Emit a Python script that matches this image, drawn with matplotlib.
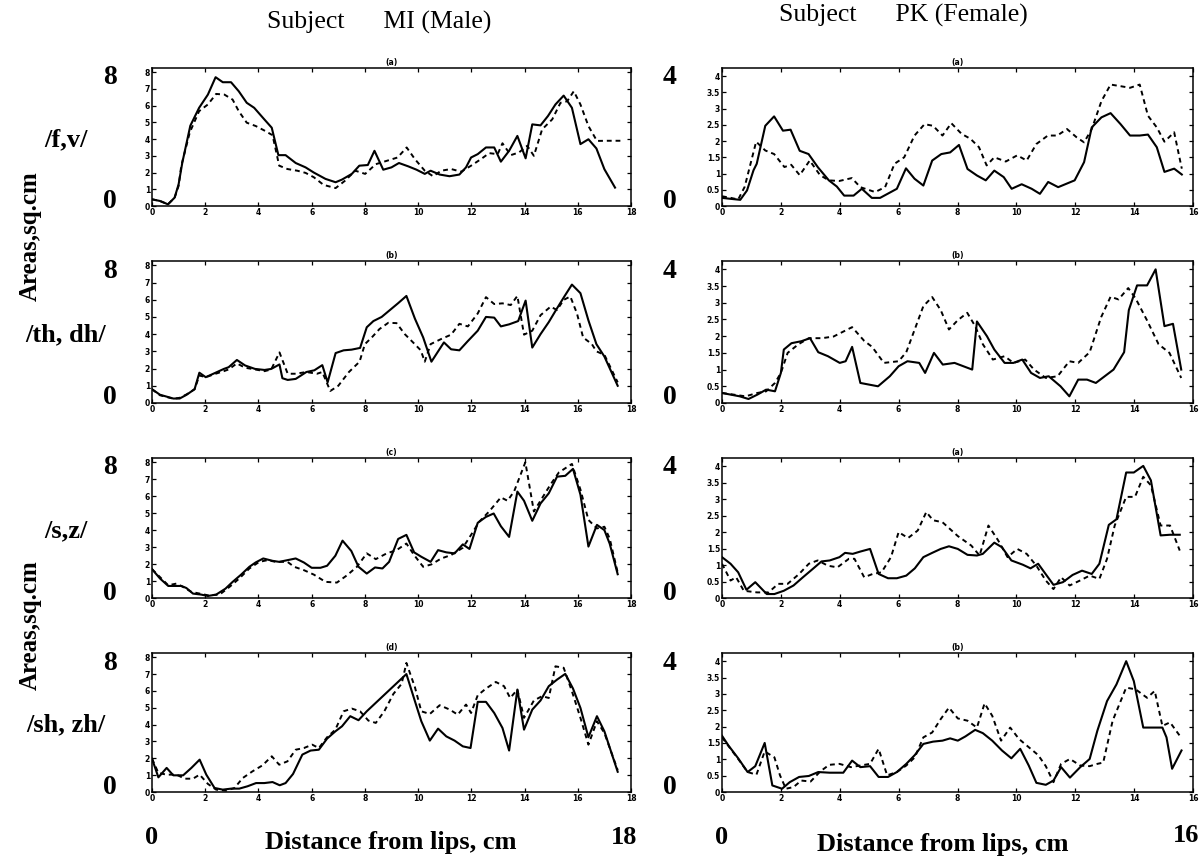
import numpy as np
import matplotlib.pyplot as plt

# ---- data ----
# Subject MI (male), x 0..18 cm, areas 0..8 sq.cm
mi_fv_x_s = [0, 0.3, 0.6, 0.85, 1.0, 1.14, 1.44, 1.77, 2.1, 2.39, 2.66, 2.97, 3.26, 3.56, 3.84, 4.22, 4.5, 4.75,
             5.02, 5.4, 5.77, 6.08, 6.52, 6.9, 7.14, 7.51, 7.79, 8.11, 8.36, 8.69, 9.0, 9.28, 9.63, 9.94, 10.25,
             10.47, 10.81, 11.18, 11.55, 11.8, 11.99, 12.24, 12.55, 12.86, 13.11, 13.42, 13.73, 14.04, 14.29, 14.6,
             14.88, 15.16, 15.47, 15.78, 16.1, 16.4, 16.7, 17.0, 17.4]
mi_fv_s = [0.4, 0.3, 0.1, 0.5, 1.3, 2.6, 4.8, 5.87, 6.66, 7.7, 7.4, 7.4, 6.86, 6.17, 5.87, 5.18, 4.68, 3.04,
           3.04, 2.57, 2.31, 2.0, 1.62, 1.42, 1.58, 1.92, 2.41, 2.45, 3.3, 2.17, 2.31, 2.57, 2.37, 2.17, 1.92,
           2.11, 1.88, 1.78, 1.88, 2.31, 2.9, 3.1, 3.5, 3.5, 2.65, 3.3, 4.19, 2.85, 4.88, 4.82,
           5.38, 6.07, 6.6, 5.87, 3.7, 3.99, 3.44, 2.2, 1.1]
mi_fv_x_d = [0, 0.3, 0.6, 0.85, 1.0, 1.1, 1.42, 1.77, 2.1, 2.41, 2.72, 3.03, 3.26, 3.56, 3.9, 4.25, 4.53, 4.78,
             5.09, 5.46, 5.77, 6.08, 6.45, 6.9, 7.26, 7.64, 8.01, 8.41, 8.82, 9.23, 9.57, 9.88, 10.25, 10.56,
             10.87, 11.24, 11.62, 11.99, 12.36, 12.67, 12.99, 13.17, 13.48, 13.79, 14.1, 14.35, 14.66, 15.04,
             15.35, 15.6, 15.85, 16.1, 16.4, 16.72, 17.1, 17.6]
mi_fv_d = [0.4, 0.3, 0.1, 0.5, 1.2, 2.4, 4.4, 5.67, 6.07, 6.7, 6.66, 6.36, 5.67, 4.98, 4.78, 4.49, 4.23, 2.41,
           2.21, 2.11, 1.98, 1.72, 1.26, 1.07, 1.52, 2.11, 1.92, 2.5, 2.7, 2.9, 3.5, 2.8, 2.11, 1.78,
           2.11, 2.21, 2.05, 2.41, 2.8, 3.16, 3.1, 3.75, 3.04, 3.2, 3.6, 3.0, 4.58, 5.18,
           6.17, 6.26, 6.86, 6.07, 4.78, 3.89, 3.9, 3.9]

mi_th_x_s = [0, 0.3, 0.8, 1.04, 1.3, 1.6, 1.78, 2.02, 2.39, 2.7, 2.88, 3.19, 3.5, 3.87, 4.23, 4.48, 4.79, 4.9,
             5.1, 5.4, 5.8, 6.1, 6.4, 6.6, 6.9, 7.2, 7.5, 7.82, 8.07, 8.32, 8.63, 8.94, 9.25, 9.56, 9.88,
             10.19, 10.5, 10.97, 11.24, 11.55, 11.87, 12.24, 12.55, 12.86, 13.11, 13.42, 13.76, 14.04, 14.29,
             14.6, 14.91, 15.22, 15.5, 15.78, 16.1, 16.4, 16.7, 17.0, 17.5]
mi_th_s = [0.8, 0.48, 0.26, 0.26, 0.48, 0.8, 1.76, 1.5, 1.76, 1.98, 2.08, 2.5, 2.18, 1.98, 1.92, 1.98, 2.24, 1.44,
           1.34, 1.4, 1.8, 1.9, 2.2, 1.2, 2.9, 3.06, 3.1, 3.2, 4.4, 4.76, 5.0, 5.4, 5.8, 6.22, 4.9,
           3.81, 2.4, 3.52, 3.12, 3.06, 3.6, 4.2, 5.0, 4.96, 4.45, 4.57, 4.76, 5.95, 3.22,
           4.0, 4.7, 5.5, 6.2, 6.88, 6.38, 4.8, 3.42, 2.7, 1.0]
mi_th_x_d = [0, 0.3, 0.8, 1.04, 1.3, 1.6, 1.78, 2.02, 2.39, 2.7, 2.88, 3.19, 3.5, 3.87, 4.23, 4.48, 4.79, 5.1,
             5.4, 5.8, 6.2, 6.4, 6.7, 7.0, 7.4, 7.8, 8.0, 8.26, 8.55, 8.88, 9.19, 9.5, 9.81, 10.1, 10.25,
             10.47, 10.87, 11.24, 11.55, 11.87, 12.24, 12.55, 12.86, 13.17, 13.48, 13.73, 13.98, 14.29, 14.6,
             14.98, 15.22, 15.47, 15.72, 15.97, 16.2, 16.53, 16.7, 17.0, 17.5]
mi_th_d = [0.8, 0.45, 0.25, 0.3, 0.5, 0.8, 1.6, 1.5, 1.7, 1.85, 1.95, 2.3, 2.05, 1.95, 1.85, 1.95, 2.94, 1.7,
           1.7, 1.8, 1.7, 1.8, 0.7, 1.0, 1.8, 2.4, 3.42, 3.81, 4.3, 4.66, 4.64, 4.0, 3.52, 3.06, 2.4,
           3.42, 3.72, 3.97, 4.6, 4.45, 5.2, 6.15, 5.75, 5.79, 5.69, 6.22, 3.97, 4.2, 5.1,
           5.6, 5.4, 5.99, 6.19, 5.2, 3.81, 3.42, 3.0, 2.8, 1.2]

mi_sz_x_s = [0, 0.3, 0.61, 1.1, 1.29, 1.54, 1.85, 2.1, 2.41, 2.76, 3.03, 3.35, 3.66, 3.9, 4.18, 4.53, 4.78, 5.09,
             5.4, 5.71, 6.0, 6.33, 6.58, 6.89, 7.16, 7.49, 7.76, 8.07, 8.38, 8.66, 8.91, 9.25, 9.56, 9.85,
             10.12, 10.47, 10.75, 11.06, 11.37, 11.68, 11.93, 12.24, 12.55, 12.84, 13.11, 13.42, 13.73, 13.98,
             14.29, 14.6, 14.91, 15.22, 15.53, 15.82, 16.1, 16.4, 16.72, 17.0, 17.2, 17.5]
mi_sz_s = [1.7, 1.15, 0.71, 0.71, 0.59, 0.26, 0.2, 0.12, 0.2, 0.55, 0.95, 1.38, 1.84, 2.1, 2.33, 2.19, 2.13, 2.23,
           2.33, 2.09, 1.78, 1.78, 1.9, 2.49, 3.38, 2.77, 1.84, 1.44, 1.8, 1.74, 2.13, 3.48, 3.72, 2.69,
           2.43, 2.13, 2.82, 2.69, 2.63, 3.16, 2.89, 4.43, 4.78, 4.98, 4.23, 3.6, 6.27, 5.73,
           4.55, 5.57, 6.17, 7.15, 7.2, 7.61, 6.09, 3.03, 4.31, 4.0, 3.2, 1.4]
mi_sz_x_d = [0, 0.61, 0.92, 1.17, 1.48, 1.79, 2.1, 2.54, 2.91, 3.28, 3.66, 4.03, 4.34, 4.65, 5.09, 5.34, 5.71,
             6.08, 6.52, 6.95, 7.33, 7.7, 8.07, 8.41, 8.82, 9.19, 9.56, 9.85, 10.19, 10.5, 10.87, 11.24,
             11.68, 11.99, 12.3, 12.67, 13.11, 13.36, 13.61, 14.03, 14.35, 14.98, 15.29, 15.78, 16.1, 16.4,
             16.72, 17.0, 17.2, 17.5]
mi_sz_d = [1.7, 0.75, 0.85, 0.65, 0.36, 0.26, 0.16, 0.2, 0.65, 1.15, 1.74, 2.13, 2.23, 2.13, 2.13, 1.84, 1.64,
           1.38, 0.95, 0.91, 1.34, 1.84, 2.63, 2.29, 2.63, 2.82, 3.21, 2.53, 1.84, 1.98, 2.33, 2.53,
           2.96, 3.72, 4.5, 5.1, 5.93, 5.73, 6.29, 8.0, 5.1, 6.7, 7.4, 7.9, 6.39, 4.6,
           4.1, 4.2, 3.5, 1.5]

mi_sh_x_s = [0, 0.24, 0.55, 0.8, 1.17, 1.48, 1.79, 2.04, 2.35, 2.66, 2.97, 3.28, 3.59, 3.91, 4.22, 4.53, 4.8,
             5.02, 5.3, 5.65, 5.96, 6.27, 6.58, 6.89, 7.14, 7.45, 7.76, 8.07, 9.56, 9.88, 10.12, 10.44,
             10.75, 11.06, 11.37, 11.68, 11.97, 12.24, 12.55, 12.86, 13.17, 13.42, 13.73, 13.98, 14.29, 14.6,
             14.91, 15.22, 15.53, 15.82, 16.1, 16.4, 16.72, 17.0, 17.5]
mi_sh_s = [1.98, 0.87, 1.43, 0.99, 0.99, 1.43, 1.92, 1.03, 0.24, 0.14, 0.2, 0.2, 0.34, 0.53, 0.53, 0.59, 0.4,
           0.53, 1.07, 2.22, 2.46, 2.51, 3.17, 3.6, 3.9, 4.5, 4.26, 4.79, 7.0, 5.39, 4.2, 3.05,
           3.76, 3.3, 3.05, 2.71, 2.61, 5.35, 5.35, 4.69, 3.8, 2.46, 6.08, 3.7, 4.89, 5.43,
           6.28, 6.67, 7.01, 6.14, 4.99, 3.25, 4.5, 3.6, 1.2]
mi_sh_x_d = [0, 0.24, 0.55, 0.92, 1.23, 1.54, 1.79, 2.1, 2.41, 2.79, 3.1, 3.41, 3.78, 4.15, 4.5, 4.78, 5.09, 5.4,
             5.71, 6.02, 6.27, 6.58, 6.89, 7.2, 7.51, 7.82, 8.13, 8.41, 8.73, 9.07, 9.38, 9.56, 9.88, 10.12,
             10.44, 10.81, 11.19, 11.49, 11.8, 11.99, 12.24, 12.55, 12.92, 13.23, 13.46, 13.73, 13.98, 14.35,
             14.66, 14.91, 15.16, 15.47, 15.78, 16.1, 16.4, 16.72, 17.0, 17.5]
mi_sh_d = [1.98, 1.13, 1.03, 1.03, 0.79, 0.79, 1.03, 0.48, 0.14, 0.08, 0.24, 0.83, 1.23, 1.58, 2.12, 1.62, 1.82,
           2.51, 2.61, 2.81, 2.61, 3.25, 3.7, 4.79, 4.95, 4.79, 4.24, 4.1, 4.79, 5.82, 6.42, 7.66, 6.22,
           4.79, 4.63, 5.15, 4.89, 4.59, 5.19, 4.69, 5.74, 6.14, 6.53, 6.28, 5.58, 6.08, 4.4, 5.43,
           5.69, 5.58, 7.46, 7.37, 5.98, 4.4, 2.81, 4.2, 3.5, 1.3]

# Subject PK (female), x 0..16 cm, areas 0..4 sq.cm
pk_fv_x_s = [0, 0.3, 0.62, 0.85, 1.07, 1.18, 1.47, 1.77, 2.07, 2.33, 2.64, 2.94, 3.26, 3.63, 3.9, 4.15, 4.47,
             4.75, 5.09, 5.37, 5.94, 6.25, 6.54, 6.84, 7.14, 7.45, 7.75, 8.05, 8.34, 8.66, 8.96, 9.25, 9.57,
             9.84, 10.18, 10.52, 10.8, 11.08, 11.42, 11.98, 12.3, 12.56, 12.89, 13.2, 13.54, 13.86, 14.19,
             14.47, 14.77, 15.03, 15.36, 15.62]
pk_fv_s = [0.25, 0.22, 0.19, 0.48, 1.1, 1.3, 2.47, 2.76, 2.32, 2.35, 1.7, 1.6, 1.19, 0.79, 0.6, 0.32, 0.32,
           0.53, 0.25, 0.25, 0.53, 1.16, 0.84, 0.63, 1.4, 1.6, 1.65, 1.88, 1.14, 0.94, 0.79, 1.09, 0.89,
           0.53, 0.67, 0.53, 0.375, 0.74, 0.58, 0.79, 1.35, 2.42, 2.73, 2.86, 2.52, 2.17, 2.17,
           2.2, 1.81, 1.05, 1.15, 0.97]
pk_fv_x_d = [0, 0.3, 0.55, 0.77, 1.16, 1.47, 1.77, 2.12, 2.35, 2.64, 2.98, 3.33, 3.63, 3.98, 4.41, 4.7, 5.2,
             5.54, 5.86, 6.19, 6.54, 6.88, 7.17, 7.49, 7.79, 8.14, 8.44, 8.73, 8.99, 9.25, 9.64, 10.03,
             10.35, 10.68, 11.07, 11.39, 11.72, 12.04, 12.3, 12.56, 12.89, 13.2, 13.54, 13.86, 14.19, 14.47,
             14.77, 15.03, 15.36, 15.62]
pk_fv_d = [0.3, 0.25, 0.2, 0.59, 1.98, 1.71, 1.6, 1.2, 1.27, 0.95, 1.4, 0.95, 0.79, 0.77, 0.86, 0.58, 0.43,
           0.58, 1.3, 1.5, 2.17, 2.52, 2.47, 2.17, 2.55, 2.22, 2.07, 1.81, 1.25, 1.5, 1.37, 1.56,
           1.4, 1.91, 2.17, 2.17, 2.37, 2.12, 1.96, 2.37, 3.23, 3.74, 3.69, 3.64, 3.74, 2.78,
           2.42, 1.98, 2.27, 1.15]

pk_th_x_s = [0, 0.3, 0.6, 0.9, 1.2, 1.5, 1.8, 2.0, 2.1, 2.36, 2.7, 2.99, 3.27, 3.6, 4.0, 4.2, 4.42, 4.7, 5.0,
             5.3, 5.7, 6.0, 6.3, 6.7, 6.9, 7.2, 7.5, 7.9, 8.2, 8.5, 8.66, 9.0, 9.25, 9.6, 9.9, 10.2, 10.5,
             10.8, 11.1, 11.5, 11.8, 12.1, 12.4, 12.7, 13.0, 13.3, 13.66, 13.82, 14.1, 14.44, 14.73, 15.03,
             15.32, 15.6]
pk_th_s = [0.3, 0.25, 0.2, 0.12, 0.25, 0.4, 0.35, 0.9, 1.6, 1.79, 1.85, 1.94, 1.52, 1.4, 1.2, 1.25, 1.68, 0.6,
           0.55, 0.5, 0.8, 1.1, 1.25, 1.2, 0.9, 1.5, 1.15, 1.2, 1.1, 1.0, 2.44, 2.0, 1.6, 1.2, 1.2, 1.3,
           0.9, 0.75, 0.8, 0.5, 0.2, 0.7, 0.7, 0.6, 0.8, 1.0, 1.52, 2.78, 3.52, 3.52, 4.0, 2.3,
           2.37, 1.0]
pk_th_x_d = [0, 0.4, 0.8, 1.2, 1.5, 1.8, 2.0, 2.23, 2.6, 2.95, 3.4, 3.79, 4.42, 4.83, 5.1, 5.5, 6.0, 6.26, 6.84,
             7.14, 7.43, 7.71, 8.0, 8.33, 8.6, 8.86, 9.2, 9.6, 9.9, 10.3, 10.6, 11.0, 11.4, 11.8, 12.1,
             12.49, 12.88, 13.2, 13.47, 13.8, 14.05, 14.44, 14.83, 15.2, 15.6]
pk_th_d = [0.3, 0.25, 0.2, 0.3, 0.35, 0.6, 0.9, 1.5, 1.76, 1.94, 1.94, 1.99, 2.27, 1.86, 1.68, 1.2, 1.25, 1.52,
           2.9, 3.17, 2.78, 2.2, 2.47, 2.7, 2.3, 1.76, 1.3, 1.4, 1.2, 1.3, 1.0, 0.75, 0.8, 1.25, 1.2,
           1.52, 2.57, 3.18, 3.1, 3.44, 3.13, 2.47, 1.76, 1.5, 0.75]

pk_sz_x_s = [0, 0.29, 0.55, 0.83, 1.13, 1.52, 1.78, 2.1, 2.43, 2.75, 3.08, 3.38, 3.66, 3.99, 4.18, 4.44, 4.7,
             5.03, 5.32, 5.64, 5.94, 6.26, 6.55, 6.84, 7.14, 7.43, 7.71, 8.01, 8.34, 8.66, 8.86, 9.25, 9.51,
             9.83, 10.22, 10.48, 10.74, 11.26, 11.58, 11.91, 12.23, 12.56, 12.82, 13.14, 13.4, 13.73, 13.99,
             14.31, 14.57, 14.9, 15.22, 15.55]
pk_sz_s = [1.24, 1.04, 0.78, 0.25, 0.48, 0.12, 0.12, 0.22, 0.38, 0.63, 0.88, 1.11, 1.14, 1.24, 1.37, 1.34, 1.41,
           1.49, 0.73, 0.6, 0.6, 0.68, 0.9, 1.24, 1.37, 1.49, 1.57, 1.49, 1.31, 1.29, 1.34, 1.68, 1.54,
           1.14, 1.01, 0.9, 1.04, 0.4, 0.48, 0.7, 0.83, 0.73, 1.04, 2.22, 2.39, 3.81, 3.81,
           4.01, 3.57, 1.9, 1.92, 1.92]
pk_sz_x_d = [0, 0.29, 0.48, 0.74, 1.19, 1.58, 1.91, 2.23, 2.62, 2.95, 3.25, 3.6, 3.92, 4.31, 4.5, 4.83, 5.12,
             5.42, 5.74, 6.0, 6.32, 6.65, 6.94, 7.17, 7.49, 8.01, 8.47, 8.75, 9.05, 9.38, 9.7, 10.03, 10.35,
             10.68, 11.0, 11.26, 11.52, 11.81, 12.16, 12.49, 12.82, 13.08, 13.34, 13.73, 14.03, 14.31, 14.57,
             14.9, 15.22, 15.55]
pk_sz_d = [1.04, 0.53, 0.63, 0.22, 0.17, 0.17, 0.43, 0.43, 0.73, 1.04, 1.14, 0.98, 0.93, 1.19, 1.19, 0.63, 0.73,
           0.78, 1.24, 2.0, 1.82, 2.05, 2.61, 2.36, 2.3, 1.88, 1.59, 1.29, 2.2, 1.75, 1.24, 1.49, 1.34,
           0.98, 0.53, 0.27, 0.63, 0.38, 0.53, 0.68, 0.58, 1.19, 2.2, 3.07, 3.07, 3.68, 3.42,
           2.2, 2.2, 1.44]

pk_sh_x_s = [0, 0.22, 0.55, 0.87, 1.13, 1.45, 1.71, 2.04, 2.3, 2.62, 2.95, 3.27, 3.66, 4.12, 4.42, 4.7, 5.03,
             5.32, 5.64, 5.94, 6.26, 6.55, 6.84, 7.17, 7.49, 7.75, 8.01, 8.27, 8.6, 8.86, 9.18, 9.51, 9.83,
             10.13, 10.42, 10.68, 11.0, 11.26, 11.52, 11.82, 12.17, 12.49, 12.75, 13.08, 13.4, 13.73, 13.99,
             14.31, 14.64, 14.96, 15.1, 15.29, 15.61]
pk_sh_s = [1.72, 1.42, 1.03, 0.61, 0.79, 1.5, 0.2, 0.1, 0.3, 0.46, 0.49, 0.61, 0.59, 0.59, 0.96, 0.76, 0.79,
           0.46, 0.46, 0.61, 0.86, 1.13, 1.47, 1.54, 1.57, 1.64, 1.57, 1.7, 1.9, 1.8, 1.57, 1.27, 1.03,
           1.32, 0.81, 0.28, 0.22, 0.35, 0.76, 0.44, 0.76, 1.01, 1.87, 2.78, 3.29, 4.0, 3.39,
           1.97, 1.97, 1.97, 1.67, 0.71, 1.27]
pk_sh_x_d = [0, 0.29, 0.55, 0.87, 1.17, 1.45, 1.78, 1.97, 2.17, 2.43, 2.69, 3.01, 3.34, 3.64, 3.99, 4.38, 4.7,
             5.03, 5.32, 5.61, 5.94, 6.26, 6.55, 6.84, 7.14, 7.43, 7.71, 8.01, 8.34, 8.66, 8.92, 9.18, 9.48,
             9.79, 10.09, 10.42, 10.74, 11.0, 11.26, 11.52, 11.82, 12.17, 12.49, 12.75, 12.95, 13.27, 13.73,
             14.05, 14.44, 14.7, 14.96, 15.22, 15.55]
pk_sh_d = [1.67, 1.32, 1.01, 0.61, 0.53, 1.24, 1.06, 0.51, 0.1, 0.15, 0.35, 0.32, 0.63, 0.83, 0.86, 0.76, 0.81,
           0.86, 1.32, 0.51, 0.61, 0.81, 1.06, 1.67, 1.82, 2.23, 2.58, 2.25, 2.18, 1.97, 2.71, 2.33, 1.57,
           1.97, 1.62, 1.37, 1.13, 0.79, 0.3, 0.86, 1.01, 0.81, 0.79, 0.86, 0.9, 2.18, 3.19,
           3.14, 2.88, 3.09, 2.02, 2.13, 1.72]

left_series = [(mi_fv_x_s, mi_fv_s, mi_fv_x_d, mi_fv_d),
               (mi_th_x_s, mi_th_s, mi_th_x_d, mi_th_d),
               (mi_sz_x_s, mi_sz_s, mi_sz_x_d, mi_sz_d),
               (mi_sh_x_s, mi_sh_s, mi_sh_x_d, mi_sh_d)]
right_series = [(pk_fv_x_s, pk_fv_s, pk_fv_x_d, pk_fv_d),
                (pk_th_x_s, pk_th_s, pk_th_x_d, pk_th_d),
                (pk_sz_x_s, pk_sz_s, pk_sz_x_d, pk_sz_d),
                (pk_sh_x_s, pk_sh_s, pk_sh_x_d, pk_sh_d)]
left_titles = ['(a)', '(b)', '(c)', '(d)']
right_titles = ['(a)', '(b)', '(a)', '(b)']
row_labels = ['/f,v/', '/th, dh/', '/s,z/', '/sh, zh/']

W, H = 1204, 861
fig = plt.figure(figsize=(W / 100, H / 100), dpi=100)

rows_px = [(68, 206), (261, 403), (458, 598), (653, 792)]
left_px = (152, 631)
right_px = (722, 1193)

serif = 'Liberation Serif'
tick_font = {'family': 'DejaVu Sans', 'weight': 'bold', 'size': 5.5}


def make_ax(xpx, ypx):
    x0, x1 = xpx
    y0, y1 = ypx
    return fig.add_axes([x0 / W, 1 - y1 / H, (x1 - x0) / W, (y1 - y0) / H])


def style(ax, xmax, ymax, yticks, title):
    ax.set_xlim(0, xmax)
    ax.set_ylim(0, ymax)
    ax.set_xticks(np.arange(0, xmax + 0.1, 2))
    ax.set_yticks(yticks)
    ax.set_yticklabels(['%g' % t for t in yticks])
    ax.tick_params(direction='in', length=3, width=0.9, top=True, right=True, pad=1.5)
    for lab in ax.get_xticklabels() + ax.get_yticklabels():
        lab.set_fontproperties(tick_font)
    for sp in ax.spines.values():
        sp.set_linewidth(1.1)
    ax.set_title(title, fontsize=5.5, fontweight='bold', pad=2)


for i in range(4):
    xs, ys, xd, yd = left_series[i]
    ax = make_ax(left_px, rows_px[i])
    ax.plot(xs, ys, color='black', lw=1.5)
    ax.plot(xd, yd, color='black', lw=1.4, ls=(0, (2.5, 2)))
    style(ax, 18, 8.25, np.arange(0, 9, 1), left_titles[i])

    xs, ys, xd, yd = right_series[i]
    ax = make_ax(right_px, rows_px[i])
    ax.plot(xs, ys, color='black', lw=1.5)
    ax.plot(xd, yd, color='black', lw=1.4, ls=(0, (2.5, 2)))
    style(ax, 16, 4.25, np.arange(0, 4.01, 0.5), right_titles[i])

    y0, y1 = rows_px[i]
    big = dict(fontsize=20, fontweight='bold', family=serif, va='center')
    fig.text(117 / W, 1 - (y0 + 10) / H, '8', ha='right', **big)
    fig.text(117 / W, 1 - (y1 - 5) / H, '0', ha='right', **big)
    fig.text(670 / W, 1 - (y0 + 10) / H, '4', ha='center', **big)
    fig.text(670 / W, 1 - (y1 - 5) / H, '0', ha='center', **big)
    fig.text(66 / W, 1 - (y0 + 0.52 * (y1 - y0)) / H, row_labels[i], ha='center',
             fontsize=19, fontweight='bold', family=serif, va='center')

fig.text(30 / W, 1 - 236 / H, 'Areas,sq.cm', rotation=90, ha='center', va='center',
         fontsize=18, fontweight='bold', family=serif)
fig.text(30 / W, 1 - 625 / H, 'Areas,sq.cm', rotation=90, ha='center', va='center',
         fontsize=18, fontweight='bold', family=serif)

fig.text(267 / W, 1 - 22 / H, 'Subject      MI (Male)', ha='left', va='center', fontsize=18.5, family=serif)
fig.text(779 / W, 1 - 15 / H, 'Subject      PK (Female)', ha='left', va='center', fontsize=18.5, family=serif)

bot = dict(fontsize=19, fontweight='bold', family=serif, va='center')
fig.text(152 / W, 1 - 838 / H, '0', ha='center', **bot)
fig.text(624 / W, 1 - 838 / H, '18', ha='center', **bot)
fig.text(391 / W, 1 - 843 / H, 'Distance from lips, cm', ha='center', **bot)
fig.text(722 / W, 1 - 838 / H, '0', ha='center', **bot)
fig.text(1186 / W, 1 - 836 / H, '16', ha='center', **bot)
fig.text(943 / W, 1 - 845 / H, 'Distance from lips, cm', ha='center', **bot)

fig.savefig('out.png', dpi=100)
